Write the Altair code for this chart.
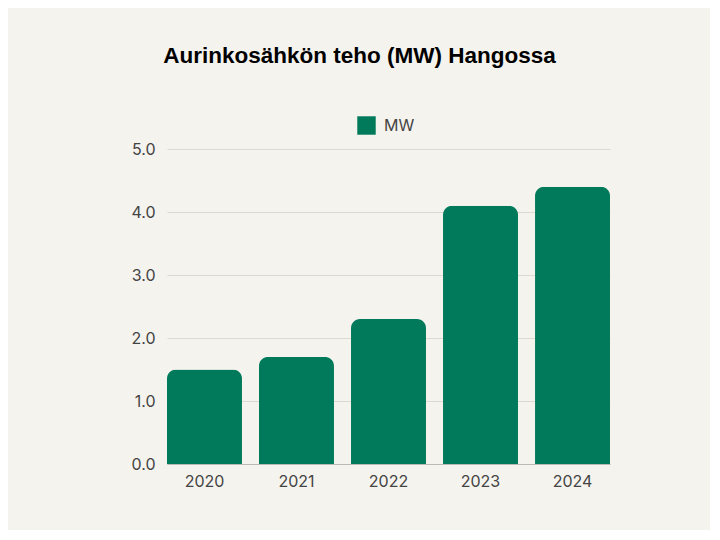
import altair as alt
import pandas as pd

years = ["2020", "2021", "2022", "2023", "2024"]
values = [1.5, 1.7, 2.3, 4.1, 4.4]
series = ["MW"] * 5

df = pd.DataFrame({"Vuosi": years, "MW": values, "Sarja": series})

chart = alt.Chart(df).mark_bar(
    cornerRadiusTopLeft=9, cornerRadiusTopRight=9, color="#007a5a"
).encode(
    x=alt.X("Vuosi:N", sort=years, title=None,
            scale=alt.Scale(paddingInner=0.185, paddingOuter=0),
            axis=alt.Axis(labelAngle=0, ticks=False, domainColor="#bdbab4",
                          labelPadding=9, labelFontSize=16, labelColor="#444444",
                          labelFont="Inter")),
    y=alt.Y("MW:Q", title=None,
            scale=alt.Scale(domain=[0, 5]),
            axis=alt.Axis(values=[0, 1, 2, 3, 4, 5], format=".1f", ticks=False,
                          domain=False, gridColor="#dcd9d3", labelPadding=12,
                          labelFontSize=16, labelColor="#444444", labelFont="Inter")),
    fill=alt.Fill("Sarja:N", scale=alt.Scale(range=["#007a5a"]),
                  legend=alt.Legend(title=None, orient="none", legendX=190, legendY=-33,
                                    symbolType="square", symbolSize=340,
                                    symbolStrokeWidth=0,
                                    labelFontSize=16, labelColor="#444444",
                                    labelFont="Inter", labelOffset=8)),
).properties(
    width=443, height=315,
    title=alt.Title("Aurinkosähkön teho (MW) Hangossa", fontSize=22.5,
                    font="Liberation Sans", fontWeight="bold", color="#000000",
                    anchor="middle", offset=49, dx=-29),
    background="#f5f3ee",
    padding={"left": 159, "top": 141, "right": 100, "bottom": 66},
    autosize=alt.AutoSizeParams(type="none"),
).configure_view(stroke=None)

chart.save("out.html", embed_options={"renderer": "svg", "actions": False})
